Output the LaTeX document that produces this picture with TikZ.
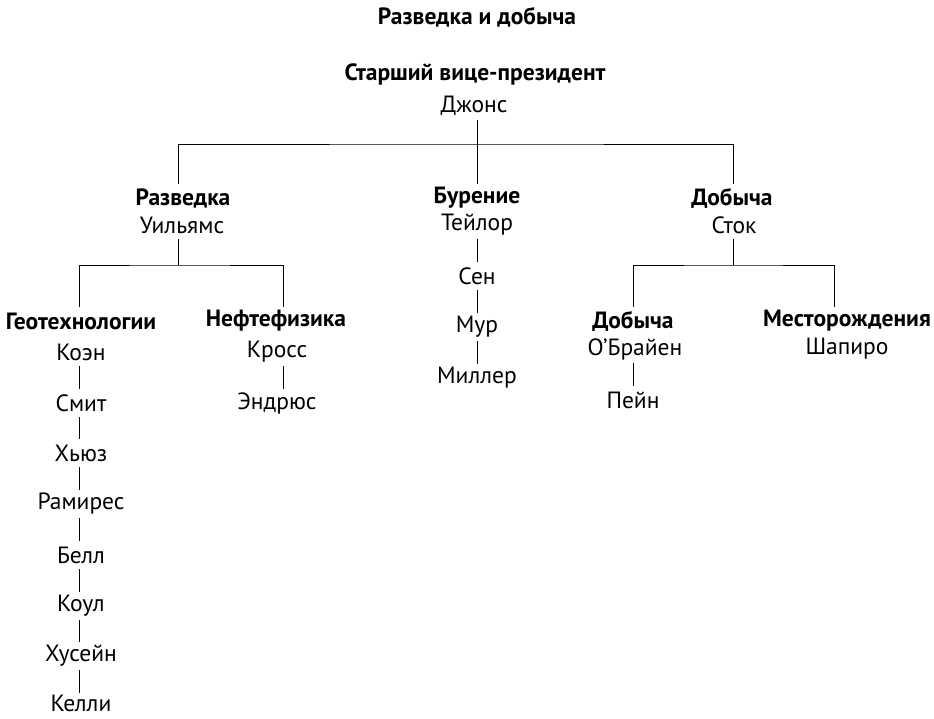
\documentclass[tikz,border=0pt]{standalone}
\usepackage{fontspec}
\setmainfont{PT Sans}
\begin{document}
\begin{tikzpicture}[x=1pt,y=1pt,
  every node/.style={inner sep=0pt, minimum height=28pt, font=\fontsize{23.5}{26}\selectfont},
  head/.style={font=\fontsize{23.5}{26}\selectfont\bfseries},
  link/.style={line width=1pt}]
\useasboundingbox[fill=white] (0,0) rectangle (934,-718);

% title and head of the unit
\node[head] (title) at (477,-17) {Разведка и добыча};
\node[head] (vp) at (475,-74) {Старший вице-президент};
\node (jones) at (474,-106) {Джонс};
\coordinate (bus0) at (477,-144);

% departments
\node[head] (razv) at (183,-198) {Разведка};
\node (uil) at (182,-225) {Уильямс};
\node[head] (buren) at (477,-198) {Бурение};
\node (teylor) at (477,-225) {Тейлор};
\node[head] (dob) at (732,-198) {Добыча};
\node (stok) at (734,-225) {Сток};

% drilling chain
\node (sen) at (477,-276) {Сен};
\node (mur) at (477,-327) {Мур};
\node (miller) at (477,-378) {Миллер};

% exploration groups
\coordinate (bus1) at (178,-265);
\node[head] (geo) at (81,-321) {Геотехнологии};
\node (koen) at (81,-352) {Коэн};
\node (smit) at (81,-403) {Смит};
\node (hughes) at (81,-453) {Хьюз};
\node (ramires) at (81,-504) {Рамирес};
\node (bell) at (81,-555) {Белл};
\node (koul) at (81,-606) {Коул};
\node (husein) at (81,-656) {Хусейн};
\node[minimum height=20pt] (kelli) at (81,-703) {Келли};
\node[head] (neft) at (276,-321) {Нефтефизика};
\node (kross) at (277,-352) {Кросс};
\node (andrus) at (277,-403) {Эндрюс};

% production groups
\coordinate (bus2) at (733,-265);
\node[head] (dob2) at (633,-321) {Добыча};
\node (obrien) at (635,-349) {О’Брайен};
\node (pein) at (633,-400) {Пейн};
\node[head] (mest) at (847,-321) {Месторождения};
\node (shapiro) at (847,-349) {Шапиро};

% connectors
\draw[link] ([xshift=3pt]jones.south) -- (buren.north);
\draw[link] ([xshift=-5pt]razv.north) |- (bus0) -| ([xshift=1pt]dob.north);
\draw[link] (teylor.south) -- (sen.north);
\draw[link] (sen.south) -- (mur.north);
\draw[link] (mur.south) -- (miller.north);

\draw[link] ([xshift=-4pt]uil.south) -- (bus1);
\draw[link] ([xshift=-2pt]geo.north) |- (bus1) -| ([xshift=7pt]neft.north);
\foreach \a/\b in {koen/smit, smit/hughes, hughes/ramires, ramires/bell,
                   bell/koul, koul/husein, husein/kelli}
  \draw[link] ([xshift=-2pt]\a.south) -- ([xshift=-2pt]\b.north);
\draw[link] ([xshift=6pt]kross.south) -- ([xshift=6pt]andrus.north);

\draw[link] ([xshift=-1pt]stok.south) -- (bus2);
\draw[link] (dob2.north) |- (bus2) -| ([xshift=-13pt]mest.north);
\draw[link] (obrien.south -| dob2) -- (pein.north);
\end{tikzpicture}
\end{document}
